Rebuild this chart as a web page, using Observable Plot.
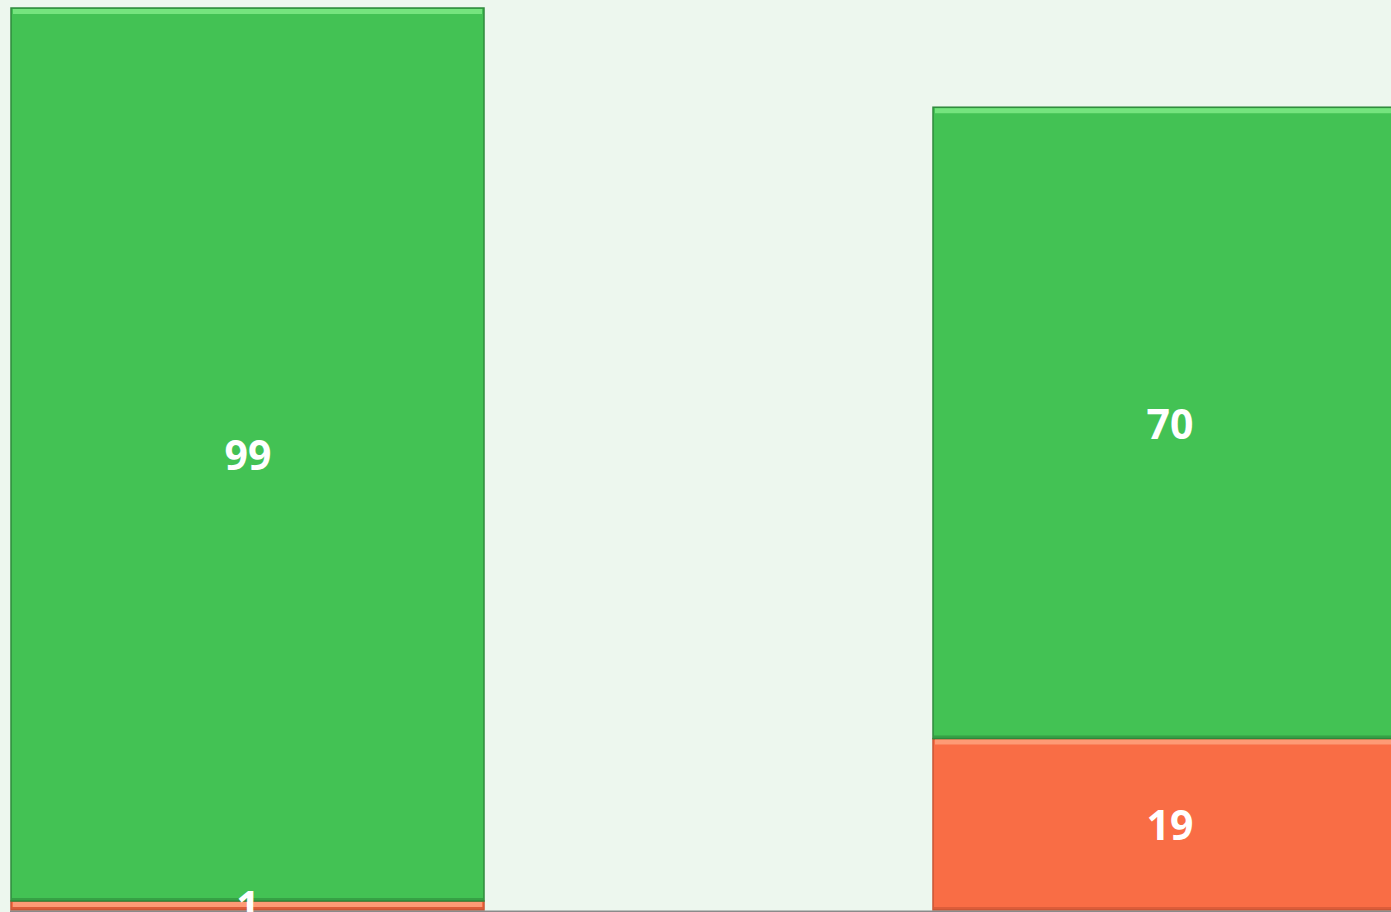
<!DOCTYPE html>
<html>
<head>
<meta charset="utf-8">
<script src="https://cdn.jsdelivr.net/npm/d3@7"></script>
<script src="https://cdn.jsdelivr.net/npm/@observablehq/plot@0.6"></script>
<style>
  html, body { margin: 0; padding: 0; background: #EDF7EE; overflow: hidden; }
  #chart svg { display: block; }
</style>
</head>
<body>
<div id="chart"></div>
<script>
const categories = ["A", "B"];
const seriesNames = ["Orange", "Green"];
const orangeValues = [1, 19];
const greenValues = [99, 70];

const data = [];
categories.forEach((c, i) => {
  data.push({cat: c, series: seriesNames[0], value: orangeValues[i]});
  data.push({cat: c, series: seriesNames[1], value: greenValues[i]});
});

const fills = {Orange: "#F96D45", Green: "#43C254"};
const tops = {Orange: "#FFA27E", Green: "#7EEA86"};
const edges = {Orange: "#C85433", Green: "#2F8A3C"};

const chart = Plot.plot({
  width: 1391,
  height: 912,
  marginTop: 8,
  marginBottom: 2,
  marginLeft: 10,
  marginRight: 0,
  style: {background: "#EDF7EE", overflow: "hidden"},
  x: {domain: categories, range: [10, 1406], paddingInner: 0.4875, paddingOuter: 0, axis: null},
  y: {domain: [0, 100], axis: null},
  marks: [
    Plot.barY(data, Plot.stackY({
      x: "cat", y: "value", z: "series", order: seriesNames,
      fill: d => fills[d.series],
      stroke: d => edges[d.series], strokeWidth: 1.5
    })),
    Plot.tickY(data, Plot.stackY2({
      x: "cat", y: "value", z: "series", order: seriesNames,
      stroke: d => tops[d.series], strokeWidth: 5, dy: 3, insetLeft: 2, insetRight: 2, strokeOpacity: 0.85
    })),
    Plot.tickY(data, Plot.stackY1({
      x: "cat", y: "value", z: "series", order: seriesNames,
      stroke: d => edges[d.series], strokeWidth: 3, dy: -2, insetLeft: 1, insetRight: 1, strokeOpacity: 0.6
    })),
    Plot.ruleY([0], {stroke: "#8A8A8A", strokeWidth: 2, dy: 1}),
    Plot.text(data, Plot.stackY({
      x: "cat", y: "value", z: "series", order: seriesNames,
      text: d => String(d.value),
      fill: "white", fontSize: 41, fontWeight: 700,
      fontFamily: "Open Sans, Lato, sans-serif", dy: 2
    }))
  ]
});
document.getElementById("chart").appendChild(chart);
</script>
</body>
</html>
